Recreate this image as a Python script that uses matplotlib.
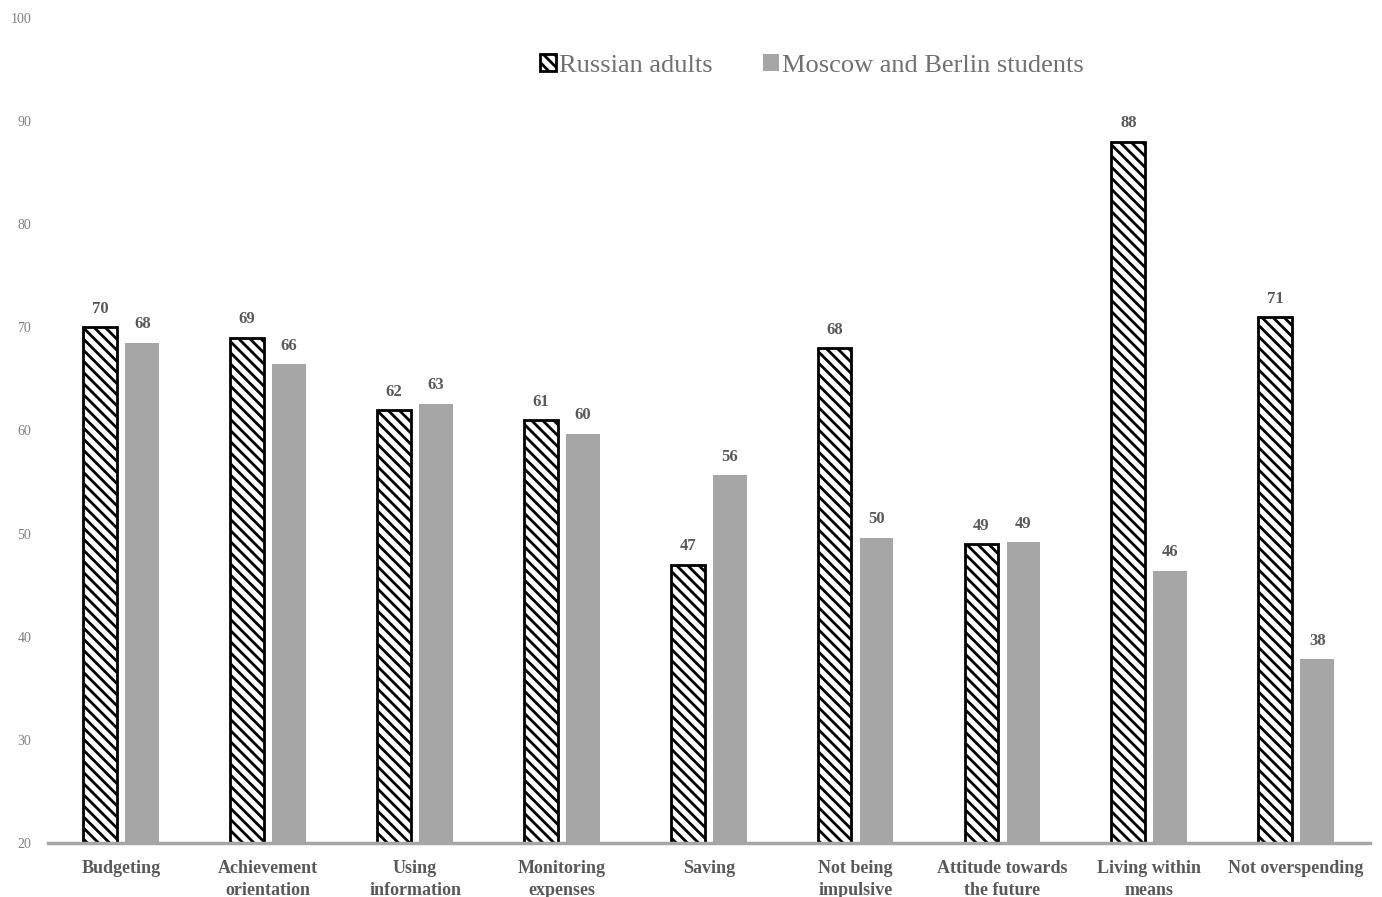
import matplotlib.pyplot as plt
import numpy as np

categories = ['Budgeting', 'Achievement\norientation', 'Using\ninformation', 'Monitoring\nexpenses',
              'Saving', 'Not being\nimpulsive', 'Attitude towards\nthe future', 'Living within\nmeans',
              'Not overspending']
russian_adults = [70, 69, 62, 61, 47, 68, 49, 88, 71]
students = [68.5, 66.4, 62.6, 59.7, 55.7, 49.6, 49.2, 46.4, 37.8]
series_names = ['Russian adults', 'Moscow and Berlin students']

plt.rcParams['font.family'] = ['Liberation Serif', 'DejaVu Serif']
plt.rcParams['hatch.linewidth'] = 2.0

text_color = '#595959'
gray = '#a6a6a6'

fig = plt.figure(figsize=(13.82, 8.97), dpi=100)
ax = fig.add_axes([0.0347, 0.0602, 0.9563, 0.9198])

x = np.arange(len(categories))
off = 0.143
w = 0.23
ax.bar(x - off, np.array(russian_adults) - 20, w, bottom=20, facecolor='white',
       edgecolor='black', hatch='\\\\\\', linewidth=2, label=series_names[0])
ax.bar(x + off, np.array(students) - 20, w, bottom=20, color=gray, label=series_names[1])

for xi, v in zip(x - off, russian_adults):
    ax.text(xi, v + 1.0, f'{v:.0f}', ha='center', va='bottom', fontsize=12,
            fontweight='bold', color=text_color)
for xi, v in zip(x + off, students):
    ax.text(xi, v + 1.0, f'{v:.0f}', ha='center', va='bottom', fontsize=12,
            fontweight='bold', color=text_color)

ax.set_xlim(-0.5, 8.5)
ax.set_ylim(20, 100)
ax.set_yticks(range(20, 101, 10))
ax.set_xticks(x)
ax.set_xticklabels(categories, fontsize=13, fontweight='bold', color=text_color, linespacing=1.4)
ax.tick_params(axis='y', length=0, labelsize=10, labelcolor='#808080', pad=12)
ax.tick_params(axis='x', length=0, pad=12)
for s in ['top', 'right', 'left']:
    ax.spines[s].set_visible(False)
ax.spines['bottom'].set_color('#a6a6a6')
ax.spines['bottom'].set_linewidth(2.5)

leg = ax.legend(loc='center', bbox_to_anchor=(0.578, 0.942), ncol=2, frameon=False,
                fontsize=19, handlelength=0.6, handleheight=0.6, columnspacing=1.9,
                handletextpad=0.12)
for t in leg.get_texts():
    t.set_color('#707070')

fig.savefig('out.png', dpi=100)
